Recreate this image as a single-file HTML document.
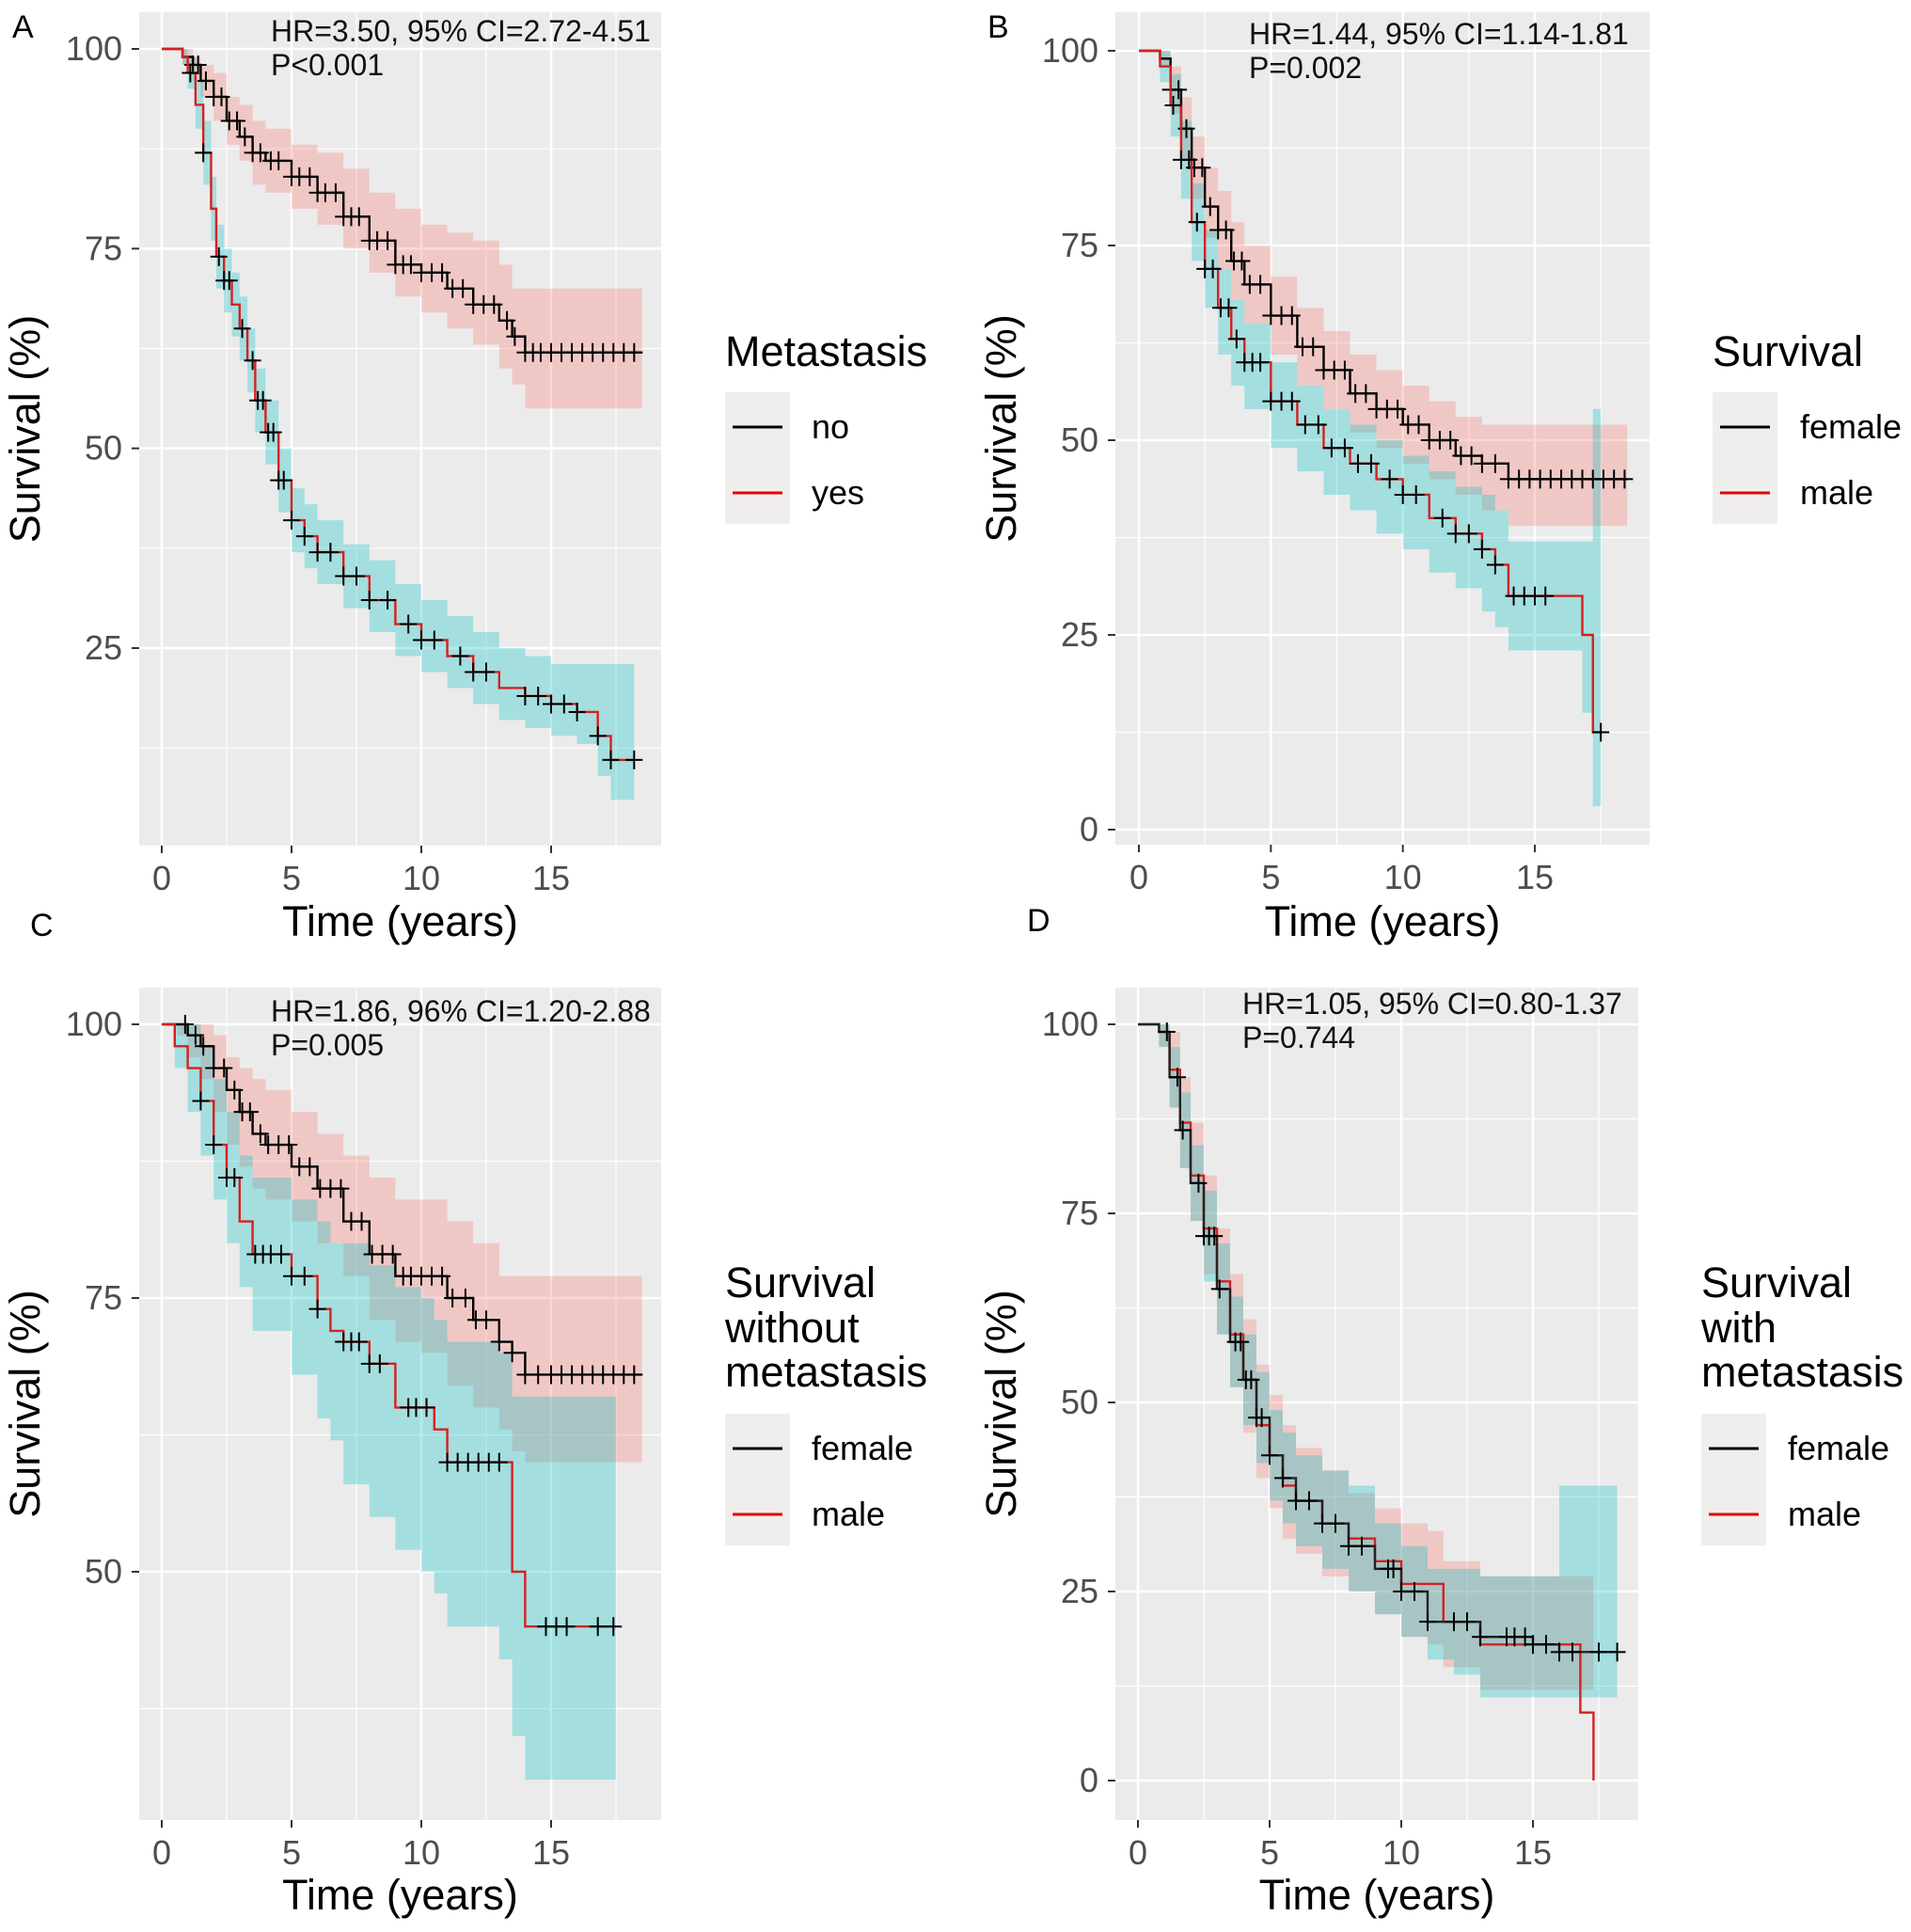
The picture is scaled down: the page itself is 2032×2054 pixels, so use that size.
<!DOCTYPE html>
<html><head><meta charset="utf-8">
<style>
body{margin:0;background:#fff;}
svg{display:block;font-family:"Liberation Sans",sans-serif;}
</style></head>
<body>
<svg id="fig" width="2032" height="2054" viewBox="0 0 2032 2054" xmlns="http://www.w3.org/2000/svg"></svg>
<script>
// ---- Panel A: Metastasis ----
const aNoT   = [0,0.8,1.2,1.5,2,2.5,3,3.5,4,5,6,7,8,9,10,11,12,13,13.5,14,18.5];
const aNoS   = [100,99,98,96,94,91,89,87,86,84,82,79,76,73,72,70,68,66,64,62,62];
const aNoLo  = [100,98,96,94,91,88,86,83,82,80,78,75,72,69,67,65,63,60,58,55,55];
const aNoHi  = [100,100,99,98,97,94,93,91,90,88,87,85,82,80,78,77,76,73,70,70,70];
const aNoC   = [1.2,1.4,1.7,2,2.3,2.6,2.9,3.2,3.5,3.8,4.2,4.5,5,5.3,5.7,6,6.3,6.7,7,7.3,7.6,8,8.3,8.7,9,9.3,9.6,10,10.4,10.8,11.2,11.6,12,12.4,12.8,13.3,13.6,14,14.3,14.6,15,15.4,15.8,16.2,16.6,17,17.4,17.8,18.2];
const aYesT  = [0,0.8,1,1.3,1.6,1.9,2.1,2.4,2.7,3,3.3,3.6,4,4.5,5,5.5,6,7,8,9,10,11,12,13,14,15,16,16.8,17.3,18.2];
const aYesS  = [100,99,97,93,87,80,74,71,68,65,61,56,52,46,41,39,37,34,31,28,26,24,22,20,19,18,17,14,11,11];
const aYesLo = [100,98,95,90,83,76,70,67,64,61,57,52,48,42,37,35,33,30,27,24,22,20,18,16,15,14,13,9,6,6];
const aYesHi = [100,100,99,96,91,84,78,75,72,69,65,60,56,50,45,43,41,38,36,33,31,29,27,25,24,23,23,23,23,23];
const aYesC  = [1.1,1.6,2.2,2.4,2.6,3.1,3.5,3.7,3.9,4.1,4.3,4.5,4.7,5,5.5,6,6.5,7,7.5,8,8.7,9.5,10,10.5,11.5,12,12.5,14,14.5,15,15.5,16,16.8,17.3,18.2];
// ---- Panel B: Survival by sex ----
const bFT  = [0,0.8,1.2,1.6,2,2.5,3,3.5,4,5,6,7,8,9,10,11,12,13,14,15,18.5];
const bFS  = [100,99,95,90,85,80,77,73,70,66,62,59,56,54,52,50,48,47,45,45,45];
const bFLo = [100,98,92,86,81,76,72,68,65,61,57,54,51,49,47,45,43,41,39,39,39];
const bFHi = [100,100,98,94,89,85,82,78,75,71,67,64,61,59,57,55,53,52,52,52,52];
const bFC  = [1.2,1.5,1.8,2.1,2.4,2.7,3,3.3,3.6,3.9,4.2,4.6,5,5.4,5.8,6.2,6.6,7,7.4,7.8,8.2,8.6,9,9.4,9.8,10.2,10.6,11,11.4,11.8,12.2,12.6,13,13.5,14,14.4,14.8,15.2,15.6,16,16.4,16.8,17.2,17.6,18,18.4];
const bMT  = [0,0.8,1.2,1.6,2,2.5,3,3.5,4,5,6,7,8,9,10,11,12,13,13.5,14,16.8,17.2,17.5];
const bMS  = [100,98,93,86,78,72,67,63,60,55,52,49,47,45,43,40,38,36,34,30,25,12.5,12.5];
const bMLo = [100,96,89,81,73,67,61,57,54,49,46,43,41,38,36,33,31,28,26,23,15,3,3];
const bMHi = [100,100,97,91,83,77,72,68,65,60,57,54,52,50,48,46,44,43,41,37,37,54,54];
const bMC  = [1.3,1.6,1.9,2.2,2.5,2.8,3.1,3.4,3.7,4,4.3,4.6,5,5.4,5.8,6.3,6.8,7.3,7.8,8.3,8.8,9.5,10,10.5,11.5,12,12.5,13,13.5,14.2,14.6,15,15.4,17.5];
// ---- Panel C: Survival without metastasis ----
const cFT  = [0,0.6,1,1.5,2,2.5,3,3.5,4,5,6,7,8,9,10,11,12,13,13.5,14,18.5];
const cFS  = [100,100,99,98,96,94,92,90,89,87,85,82,79,77,77,75,73,71,70,68,68];
const cFLo = [100,99,97,95,92,89,87,85,84,82,80,77,73,71,70,67,65,63,61,60,60];
const cFHi = [100,100,100,100,99,97,96,95,94,92,90,88,86,84,84,82,80,77,77,77,77];
const cFC  = [0.9,1.3,1.6,2,2.4,2.8,3.1,3.4,3.8,4.1,4.5,4.9,5.3,5.7,6.1,6.5,6.9,7.3,7.7,8.1,8.5,8.9,9.3,9.6,10,10.4,10.8,11.2,11.7,12.1,12.5,13,13.5,14,14.5,15,15.4,15.8,16.2,16.6,17,17.4,17.8,18.2];
const cMT  = [0,0.5,1,1.5,2,2.5,3,3.5,5,6,6.5,7,8,9,10,10.5,11,13,13.5,14,17.5];
const cMS  = [100,98,96,93,89,86,82,79,77,74,72,71,69,65,65,63,60,60,50,45,45];
const cMLo = [100,96,92,88,84,80,76,72,68,64,62,58,55,52,50,48,45,42,35,31,31];
const cMHi = [100,100,100,98,95,92,88,86,84,82,80,80,78,76,75,73,71,70,66,66,66];
const cMC  = [1.5,2,2.5,2.8,3.6,3.9,4.2,4.6,5,5.5,6,7,7.3,7.6,8,8.4,9.5,9.8,10.2,11,11.4,11.8,12.2,12.6,13,14.8,15.2,15.6,16.8,17.4];
// ---- Panel D: Survival with metastasis ----
const dFT  = [0,0.8,1.2,1.6,2,2.5,3,3.5,4,4.5,5,5.5,6,7,8,9,10,11,12,13,15,16,18.2];
const dFS  = [100,99,93,86,79,72,65,58,53,48,43,40,37,34,31,28,25,21,21,19,18,17,17];
const dFLo = [100,97,89,81,74,66,59,52,47,42,37,34,31,28,25,22,19,16,14,11,11,11,11];
const dFHi = [100,100,97,91,84,78,71,64,59,54,49,46,43,41,39,34,31,28,28,27,27,39,39];
const dFC  = [1.1,1.5,1.7,2.3,2.5,2.7,2.9,3.1,3.7,3.9,4.1,4.3,4.5,4.7,5,5.5,6,6.5,7,7.5,8,8.5,9.5,9.7,10,10.5,11,12,12.5,13,14,14.3,14.7,15,15.5,16,16.5,17.5,18.2];
const dMT  = [0,0.8,1.2,1.6,2,2.5,3,3.5,4,4.5,5,5.5,6,7,8,9,10,11,11.6,13,16,16.8,17.3];
const dMS  = [100,99,94,87,80,73,66,59,53,47,43,39,37,34,32,29,26,26,21,18,18,9,0];
const dMLo = [100,97,89,81,74,67,59,52,46,40,36,32,30,27,25,22,19,18,15,12,12,12,12];
const dMHi = [100,100,99,93,87,80,73,67,61,55,51,47,44,41,38,36,34,33,29,27,27,27,27];
const dMC  = [];
// ---- ticks ----
const xTicks = [0,5,10,15];
const yTicksA = [25,50,75,100];
const yTicksB = [0,25,50,75,100];
const yTicksC = [50,75,100];

const NS='http://www.w3.org/2000/svg';
const svg=document.getElementById('fig');
function mk(tag,attrs,parent){const e=document.createElementNS(NS,tag);for(const k in attrs)e.setAttribute(k,attrs[k]);(parent||svg).appendChild(e);return e;}

const RED_BAND='rgba(248,118,109,0.3)', CYAN_BAND='rgba(0,191,196,0.3)';

const panels=[
 {id:'a',letter:'A',lx:13,ly:40,bx0:148,bx1:703,by0:13,by1:899,x0:172,x15:586,yv0:100,yp0:52,yv1:25,yp1:689,yticks:yTicksA,
  ann:['HR=3.50, 95% CI=2.72-4.51','P<0.001'],ax:288,ay:[44,80],titleY:995,
  legend:{title:['Metastasis'],tx:771,ty:[389],box:[771,417,69,140],labels:['no','yes'],labx:863,laby:[466,536]},
  series:[{t:aNoT,s:aNoS,lo:aNoLo,hi:aNoHi,c:aNoC,line:'#000',band:RED_BAND,name:'no'},
          {t:aYesT,s:aYesS,lo:aYesLo,hi:aYesHi,c:aYesC,line:'#d62020',band:CYAN_BAND,name:'yes'}]},
 {id:'b',letter:'B',lx:1050,ly:40,bx0:1186,bx1:1754,by0:13,by1:898,x0:1211,x15:1632,yv0:100,yp0:54,yv1:0,yp1:882,yticks:yTicksB,
  ann:['HR=1.44, 95% CI=1.14-1.81','P=0.002'],ax:1328,ay:[47,83],titleY:995,
  legend:{title:['Survival'],tx:1821,ty:[389],box:[1821,417,69,140],labels:['female','male'],labx:1914,laby:[466,536]},
  series:[{t:bFT,s:bFS,lo:bFLo,hi:bFHi,c:bFC,line:'#000',band:RED_BAND,name:'female'},
          {t:bMT,s:bMS,lo:bMLo,hi:bMHi,c:bMC,line:'#d62020',band:CYAN_BAND,name:'male'}]},
 {id:'c',letter:'C',lx:32,ly:995,bx0:148,bx1:703,by0:1050,by1:1935,x0:172,x15:586,yv0:100,yp0:1089,yv1:50,yp1:1671,yticks:yTicksC,
  ann:['HR=1.86, 96% CI=1.20-2.88','P=0.005'],ax:288,ay:[1086,1122],titleY:2030,
  legend:{title:['Survival','without','metastasis'],tx:771,ty:[1379,1427,1474],box:[771,1503,69,140],labels:['female','male'],labx:863,laby:[1552,1622]},
  series:[{t:cFT,s:cFS,lo:cFLo,hi:cFHi,c:cFC,line:'#000',band:RED_BAND,name:'female'},
          {t:cMT,s:cMS,lo:cMLo,hi:cMHi,c:cMC,line:'#d62020',band:CYAN_BAND,name:'male'}]},
 {id:'d',letter:'D',lx:1092,ly:990,bx0:1186,bx1:1742,by0:1050,by1:1935,x0:1210,x15:1630,yv0:100,yp0:1089,yv1:0,yp1:1893,yticks:yTicksB,
  ann:['HR=1.05, 95% CI=0.80-1.37','P=0.744'],ax:1321,ay:[1078,1114],titleY:2030,
  legend:{title:['Survival','with','metastasis'],tx:1809,ty:[1379,1427,1474],box:[1809,1503,69,140],labels:['female','male'],labx:1901,laby:[1552,1622]},
  series:[{t:dMT,s:dMS,lo:dMLo,hi:dMHi,c:dMC,line:'#d62020',band:RED_BAND,name:'male'},
          {t:dFT,s:dFS,lo:dFLo,hi:dFHi,c:dFC,line:'#222',band:CYAN_BAND,name:'female'}]}
];

function stepPath(t,v,X,Y){let d='M'+X(t[0])+' '+Y(v[0]);for(let i=1;i<t.length;i++){d+=' H'+X(t[i])+' V'+Y(v[i]);}return d;}
function bandPoly(t,lo,hi,X,Y){
  let d='M'+X(t[0])+' '+Y(hi[0]);
  for(let i=1;i<t.length;i++){d+=' L'+X(t[i])+' '+Y(hi[i-1])+' L'+X(t[i])+' '+Y(hi[i]);}
  const n=t.length-1;
  d+=' L'+X(t[n])+' '+Y(lo[n]);
  for(let i=n;i>0;i--){d+=' L'+X(t[i])+' '+Y(lo[i-1])+' L'+X(t[i-1])+' '+Y(lo[i-1]);}
  return d+' Z';
}
function stepVal(t,v,x){let r=v[0];for(let i=0;i<t.length;i++){if(t[i]<=x)r=v[i];}return r;}

panels.forEach(p=>{
  const g=mk('g',{});
  
  
  const X=t=>p.x0+(p.x15-p.x0)*t/15;
  const Y=v=>p.yp0+(p.yp1-p.yp0)*(v-p.yv0)/(p.yv1-p.yv0);
  const bg=mk('rect',{x:p.bx0,y:p.by0,width:p.bx1-p.bx0,height:p.by1-p.by0,fill:'#EBEBEB'},g);
  
  
  for(let t=-2.5;t<=20;t+=5){const x=X(t);if(x>p.bx0&&x<p.bx1)mk('line',{x1:x,x2:x,y1:p.by0,y2:p.by1,stroke:'#fff','stroke-width':1.2},g);}
  for(let v=-12.5;v<=112.5;v+=25){const y=Y(v);if(y>p.by0&&y<p.by1)mk('line',{x1:p.bx0,x2:p.bx1,y1:y,y2:y,stroke:'#fff','stroke-width':1.2},g);}
  xTicks.forEach(t=>{const x=X(t);
    mk('line',{x1:x,x2:x,y1:p.by0,y2:p.by1,stroke:'#fff','stroke-width':2.6},g);
    mk('line',{x1:x,x2:x,y1:p.by1,y2:p.by1+8,stroke:'#333','stroke-width':2},g);
    const tx=mk('text',{x:x,y:p.by1+47,'text-anchor':'middle','font-size':36,fill:'#4d4d4d'},g);tx.textContent=t;
    
    
  });
  p.yticks.forEach(v=>{const y=Y(v);
    mk('line',{x1:p.bx0,x2:p.bx1,y1:y,y2:y,stroke:'#fff','stroke-width':2.6},g);
    mk('line',{x1:p.bx0-8,x2:p.bx0,y1:y,y2:y,stroke:'#333','stroke-width':2},g);
    const tx=mk('text',{x:p.bx0-18,y:y+12,'text-anchor':'end','font-size':36,fill:'#4d4d4d'},g);tx.textContent=v;
    
    
  });
  p.series.forEach(s=>{
    const b=mk('path',{d:bandPoly(s.t,s.lo,s.hi,X,Y),fill:s.band,stroke:'none'},g);
    
    
  });
  p.series.forEach(s=>{
    const l=mk('path',{d:stepPath(s.t,s.s,X,Y),fill:'none',stroke:s.line,'stroke-width':2.4},g);
    
    
    s.c.forEach(c=>{const x=X(c),y=Y(stepVal(s.t,s.s,c));
      const m=mk('path',{d:'M'+(x-9)+' '+y+' H'+(x+9)+' M'+x+' '+(y-10)+' V'+(y+10),stroke:'#000','stroke-width':2,fill:'none'},g);
      
      
    });
  });
  p.ann.forEach((a,i)=>{const tx=mk('text',{x:p.ax,y:p.ay[i],'font-size':32,fill:'#111'},g);tx.textContent=a;
    
    });
  const xt=mk('text',{x:(p.bx0+p.bx1)/2,y:p.titleY,'text-anchor':'middle','font-size':45,fill:'#000'},g);xt.textContent='Time (years)';
  
  
  const cy=(p.by0+p.by1)/2, cx=p.bx0-106;
  const yt=mk('text',{x:cx,y:cy,'text-anchor':'middle','font-size':45,fill:'#000',transform:'rotate(-90 '+cx+' '+cy+')'},g);yt.textContent='Survival (%)';
  
  
  const pl=mk('text',{x:p.lx,y:p.ly,'font-size':34,fill:'#000'},g);pl.textContent=p.letter;
  
  
  const L=p.legend;
  L.title.forEach((t,i)=>{const tx=mk('text',{x:L.tx,y:L.ty[i],'font-size':45,fill:'#000'},g);tx.textContent=t;
    
    });
  mk('rect',{x:L.box[0],y:L.box[1],width:L.box[2],height:L.box[3],fill:'#F0EDED'},g);
  L.labels.forEach((lab,i)=>{
    const y=L.laby[i]-12;
    const ln=mk('line',{x1:L.box[0]+8,x2:L.box[0]+L.box[2]-8,y1:y,y2:y,stroke:i===0?'#000':'#e00000','stroke-width':3},g);
    
    
    const tx=mk('text',{x:L.labx,y:L.laby[i],'font-size':36,fill:'#000'},g);tx.textContent=lab;
    
    
  });
});
</script>
</body></html>
